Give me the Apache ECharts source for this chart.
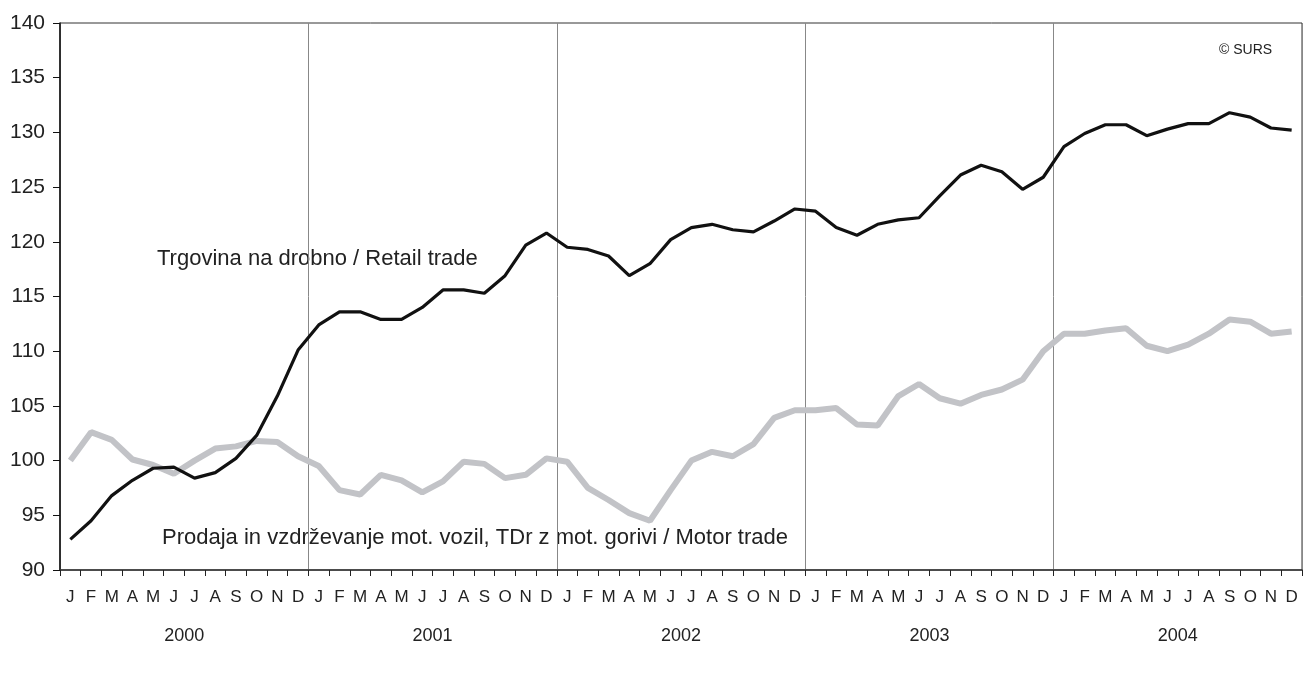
<html>
<head>
    <meta http-equiv="Content-Type" content="text/html; charset=utf-8" />
    <title>Trgovina na drobno / Motor trade</title>
    <script src="https://cdn.jsdelivr.net/npm/echarts@6/dist/echarts.min.js"></script>
    <style>
        html, body { margin: 0; padding: 0; background: #fff; }
    </style>
</head>
<body>
    <div id="main" style="width:1308px;height:673px"></div>

    <script type="text/javascript">
        var years = ['2000', '2001', '2002', '2003', '2004'];
        var monthLetters = ['J', 'F', 'M', 'A', 'M', 'J', 'J', 'A', 'S', 'O', 'N', 'D'];

        // Trgovina na drobno / Retail trade
        var retail = [
            92.8, 94.5, 96.8, 98.2, 99.3, 99.4, 98.4, 98.9, 100.2, 102.3, 105.9, 110.1,
            112.4, 113.6, 113.6, 112.9, 112.9, 114.0, 115.6, 115.6, 115.3, 116.9, 119.7, 120.8,
            119.5, 119.3, 118.7, 116.9, 118.0, 120.2, 121.3, 121.6, 121.1, 120.9, 121.9, 123.0,
            122.8, 121.3, 120.6, 121.6, 122.0, 122.2, 124.2, 126.1, 127.0, 126.4, 124.8, 125.9,
            128.7, 129.9, 130.7, 130.7, 129.7, 130.3, 130.8, 130.8, 131.8, 131.4, 130.4, 130.2
        ];
        // Prodaja in vzdrževanje mot. vozil, TDr z mot. gorivi / Motor trade
        var motor = [
            100.0, 102.6, 101.9, 100.1, 99.6, 98.8, 100.0, 101.1, 101.3, 101.8, 101.7, 100.4,
            99.5, 97.3, 96.9, 98.7, 98.2, 97.1, 98.1, 99.9, 99.7, 98.4, 98.7, 100.2,
            99.9, 97.5, 96.4, 95.2, 94.5, 97.3, 100.0, 100.8, 100.4, 101.5, 103.9, 104.6,
            104.6, 104.8, 103.3, 103.2, 105.9, 107.0, 105.7, 105.2, 106.0, 106.5, 107.4, 110.0,
            111.6, 111.6, 111.9, 112.1, 110.5, 110.0, 110.6, 111.6, 112.9, 112.7, 111.6, 111.8
        ];
        var yTicks = { min: 90, max: 140, step: 5 };

        var months = [];
        for (var y = 0; y < years.length; y++) {
            for (var m = 0; m < 12; m++) {
                months.push(years[y] + '-' + (m + 1));
            }
        }

        var font = 'Arial, "Liberation Sans", sans-serif';

        var option = {
            animation: false,
            backgroundColor: '#fff',
            grid: {
                left: 60,
                right: 6,
                top: 23,
                bottom: 103,
                show: true,
                borderColor: '#333',
                borderWidth: 1
            },
            xAxis: [{
                type: 'category',
                data: months,
                boundaryGap: true,
                axisLine: { lineStyle: { color: '#333', width: 1.5 } },
                axisTick: { show: true, inside: false, length: 6, lineStyle: { color: '#222' } },
                axisLabel: {
                    interval: 0,
                    margin: 19,
                    fontFamily: font,
                    fontSize: 17,
                    color: '#222',
                    formatter: function (v, i) {
                        return monthLetters[i % 12];
                    }
                },
                splitLine: { show: false }
            }, {
                type: 'category',
                data: years,
                position: 'bottom',
                boundaryGap: true,
                axisLine: { show: false },
                axisTick: { show: false },
                axisLabel: {
                    margin: 57,
                    fontFamily: font,
                    fontSize: 18,
                    color: '#222'
                },
                splitLine: { show: true, lineStyle: { color: '#888', width: 1 } }
            }],
            yAxis: {
                type: 'value',
                min: yTicks.min,
                max: yTicks.max,
                interval: yTicks.step,
                axisLine: { show: true, lineStyle: { color: '#111', width: 1.5 } },
                axisTick: { show: true, length: 7, lineStyle: { color: '#111' } },
                axisLabel: {
                    margin: 15,
                    fontFamily: font,
                    fontSize: 21,
                    color: '#222'
                },
                splitLine: { show: false }
            },
            series: [{
                name: 'Motor trade',
                type: 'line',
                xAxisIndex: 0,
                data: motor,
                symbol: 'none',
                lineStyle: { color: '#c2c3c7', width: 6 },
                z: 2
            }, {
                name: 'Retail trade',
                type: 'line',
                xAxisIndex: 0,
                data: retail,
                symbol: 'none',
                lineStyle: { color: '#111', width: 3.2 },
                z: 3
            }],
            graphic: [{
                type: 'text',
                left: 157,
                top: 248,
                style: {
                    text: 'Trgovina na drobno / Retail trade',
                    font: '22px ' + font,
                    fill: '#222'
                }
            }, {
                type: 'text',
                left: 162,
                top: 527,
                style: {
                    text: 'Prodaja in vzdrževanje mot. vozil, TDr z mot. gorivi / Motor trade',
                    font: '22px ' + font,
                    fill: '#222'
                }
            }, {
                type: 'text',
                left: 1219,
                top: 43,
                style: {
                    text: '© SURS',
                    font: '14px ' + font,
                    fill: '#222'
                }
            }]
        };

        var myChart = echarts.init(document.getElementById('main'));
        myChart.setOption(option);
    </script>
</body>
</html>
